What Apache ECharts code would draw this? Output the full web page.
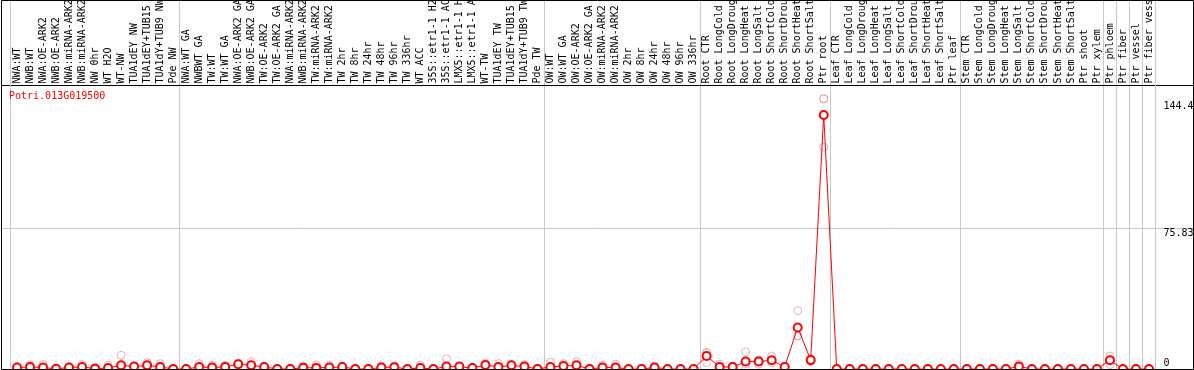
<!DOCTYPE html>
<html><head><meta charset="utf-8">
<script src="https://cdn.jsdelivr.net/npm/echarts@6/dist/echarts.min.js"></script>
<style>html,body{margin:0;padding:0;background:#fff}#c{width:1194px;height:370px}</style>
</head><body><div id="c"></div>
<script>
const geneId = 'Potri.013G019500';
const categories = [
'NWA:WT','NWB:WT','NWA:OE-ARK2','NWB:OE-ARK2','NWA:miRNA-ARK2','NWB:miRNA-ARK2','NW 0hr','WT H2O','WT-NW','TUA1dEY NW','TUA1dEY+TUB15 NW','TUA1dY+TUB9 NW','Pde NW',
'NWA:WT GA','NWBWT GA','TW:WT','TW:WT GA','NWA:OE-ARK2 GA','NWB:OE-ARK2 GA','TW:OE-ARK2','TW:OE-ARK2 GA','NWA:miRNA-ARK2','NWB:miRNA-ARK2','TW:miRNA-ARK2','TW:miRNA-ARK2','TW 2hr','TW 8hr','TW 24hr','TW 48hr','TW 96hr','TW 336hr','WT ACC','35S::etr1-1 H2O','35S::etr1-1 ACC','LMX5::etr1-1 H2O','LMX5::etr1-1 ACC','WT-TW','TUA1dEY TW','TUA1dEY+TUB15 TW','TUA1dY+TUB9 TW','Pde TW',
'OW:WT','OW:WT GA','OW:OE-ARK2','OW:OE-ARK2 GA','OW:miRNA-ARK2','OW:miRNA-ARK2','OW 2hr','OW 8hr','OW 24hr','OW 48hr','OW 96hr','OW 336hr',
'Root CTR','Root LongCold','Root LongDrought','Root LongHeat','Root LongSalt','Root ShortCold','Root ShortDrought','Root ShortHeat','Root ShortSalt','Ptr root',
'Leaf CTR','Leaf LongCold','Leaf LongDrought','Leaf LongHeat','Leaf LongSalt','Leaf ShortCold','Leaf ShortDrought','Leaf ShortHeat','Leaf ShortSalt','Ptr leaf',
'Stem CTR','Stem LongCold','Stem LongDrought','Stem LongHeat','Stem LongSalt','Stem ShortCold','Stem ShortDrought','Stem ShortHeat','Stem ShortSalt','Ptr shoot','Ptr xylem',
'Ptr phloem','Ptr fiber','Ptr vessel','Ptr fiber vessel'
];
const meanValues = [
0.8,1.1,0.8,0.1,0.8,1.1,0.2,0.5,2.0,1.3,2.0,1.1,0,
0,1.1,0.8,1.1,2.6,2.0,1.1,0,0,0.7,0.6,0.8,1.1,0,0,0.8,1.0,0,0.5,0,1.3,1.3,0.5,2.2,1.1,2.0,1.3,0,
1.1,1.6,2.0,0,0.8,0.8,0,0,0.8,0,0,0,
7.0,1.1,1.1,4.0,4.0,4.7,1.1,22.4,4.8,136.9,
0,0,0,0,0,0,0,0,0,0,
0,0,0,0,1.3,0,0,0,0,0,0,
4.7,0,0,0
];
const rep1 = [
1.2,2.2,2.4,0.2,1.2,2.4,0.8,2.0,7.4,1.6,3.4,2.9,0,
0,2.9,2.0,2.0,3.1,4.0,1.3,0,0,1.6,2.2,2.0,1.4,0,0,1.6,1.6,0,2.0,0,5.6,1.6,1.0,3.1,2.9,2.4,2.4,0,
3.6,2.9,4.0,0,2.0,2.6,0,0,1.6,0,0,0,
8.8,2.6,1.6,9.2,4.9,7.0,0.8,31.4,5.6,145.6,
0,0,0,0,0,0,0,0,0,0,
0,0,0,0,2.6,0,0,0,0,0,0,
7.0,0,0,0
];
const rep2 = [
0.4,0.5,0.2,0,0.4,0.3,0,0,0.5,1.0,1.0,0.3,0,
0,0.2,0.2,0.4,2.2,0.8,0.9,0,0,0.2,0.1,0.2,0.8,0,0,0.2,0.4,0,0,0,0.2,1.0,0.2,1.5,0.4,1.6,0.6,0,
0.2,0.8,0.8,0,0.2,0.2,0,0,0.2,0,0,0,
3.4,0.4,0.6,0,2.6,3.4,1.4,17.9,4.0,119.6,
0,0,0,0,0,0,0,0,0,0,
0,0,0,0,0.2,0,0,0,0,0,0,
2.4,0,0,0
];
const rep3 = {53: 8.8, 56: 2.8, 57: 4.6, 60: 17.9, 62: 145.6};
const groupStarts = [13, 41, 53, 63, 73, 84, 85, 86, 87];
const yTicks = [0, 75.83, 144.4];
const yTickLabels = ['0', '75.83', '144.4'];

const repPoints = [];
rep1.forEach((v, i) => repPoints.push([i, v]));
rep2.forEach((v, i) => repPoints.push([i, v]));
Object.keys(rep3).forEach(k => repPoints.push([Number(k), rep3[k]]));

const FONT = 'DejaVu Sans Mono';
const chart = echarts.init(document.getElementById('c'), null, {renderer: 'canvas'});
const noBounds = {outerBoundsMode: 'none', containLabel: false};
chart.setOption({
  animation: false,
  backgroundColor: '#fff',
  title: {text: geneId, left: 9, top: 91, padding: 0,
    textStyle: {color: '#ff0000', fontFamily: FONT, fontSize: 10, fontWeight: 'normal'}},
  grid: [
    Object.assign({left: 1.5, right: 0.5, top: 0.5, bottom: 0.5, show: true, borderColor: '#000', borderWidth: 1, backgroundColor: 'transparent', z: 5}, noBounds),
    Object.assign({left: 10.5, right: 38.5, top: 0, bottom: 0, show: true, borderColor: '#c8c8c8', borderWidth: 1, backgroundColor: 'transparent', z: 1}, noBounds),
    Object.assign({left: 1.5, right: 0.5, top: 101, bottom: 1}, noBounds),
    Object.assign({left: 10.5, right: 38.5, top: 101, bottom: 1}, noBounds)
  ],
  xAxis: [
    {gridIndex: 0, type: 'value', show: false},
    {gridIndex: 1, type: 'category', data: categories, axisLine: {show: false, onZero: false}, axisTick: {show: false}, axisLabel: {show: false},
      splitLine: {show: true, interval: (i) => groupStarts.includes(i), lineStyle: {color: '#c8c8c8', width: 1}}},
    {gridIndex: 2, type: 'value', min: 0, max: 1, position: 'top', offset: 15.5,
      axisLine: {show: true, onZero: false, lineStyle: {color: '#000', width: 1}}, axisTick: {show: false}, axisLabel: {show: false}, splitLine: {show: false}},
    {gridIndex: 3, type: 'category', data: categories, position: 'top', offset: 15.5,
      axisLine: {show: false, onZero: false}, axisTick: {show: false}, splitLine: {show: false},
      axisLabel: {interval: 0, rotate: -90, align: 'left', verticalAlign: 'middle', margin: 2, fontFamily: FONT, fontSize: 10, color: '#000'}}
  ],
  yAxis: [
    {gridIndex: 0, type: 'value', show: false},
    {gridIndex: 1, type: 'value', show: false},
    {gridIndex: 2, type: 'value', min: 0, max: 144.4, interval: 75.83, position: 'right', offset: -30,
      axisLine: {show: false}, axisTick: {show: false},
      splitLine: {show: true, showMinLine: false, showMaxLine: false, lineStyle: {color: '#c8c8c8', width: 1}},
      axisLabel: {margin: 0, fontFamily: FONT, fontSize: 10, color: '#000',
        formatter: (v) => {
          const i = yTicks.findIndex(t => Math.abs(t - v) < 1e-6);
          const s = i >= 0 ? yTickLabels[i] : '';
          return v === 0 ? '{u|' + s + '}' : '{d|' + s + '}';
        },
        rich: {
          u: {padding: [0, 0, 12, 0], fontFamily: FONT, fontSize: 10, color: '#000'},
          d: {padding: [11, 0, 0, 0], fontFamily: FONT, fontSize: 10, color: '#000'}
        }}},
    {gridIndex: 3, type: 'value', min: 0, max: 144.4, show: false}
  ],
  series: [
    {type: 'scatter', xAxisIndex: 3, yAxisIndex: 3, data: repPoints, symbol: 'circle', symbolSize: 8,
      itemStyle: {color: 'rgba(255,255,255,0)', borderColor: '#eb9aa0', borderWidth: 1}, clip: false, z: 2, silent: true},
    {type: 'line', xAxisIndex: 3, yAxisIndex: 3, data: meanValues, symbol: 'emptyCircle', symbolSize: 8, showAllSymbol: true,
      lineStyle: {color: '#ff0000', width: 1}, itemStyle: {color: '#ff0000', borderColor: '#ff0000', borderWidth: 1}, clip: false, z: 3, silent: true}
  ]
});
</script></body></html>
